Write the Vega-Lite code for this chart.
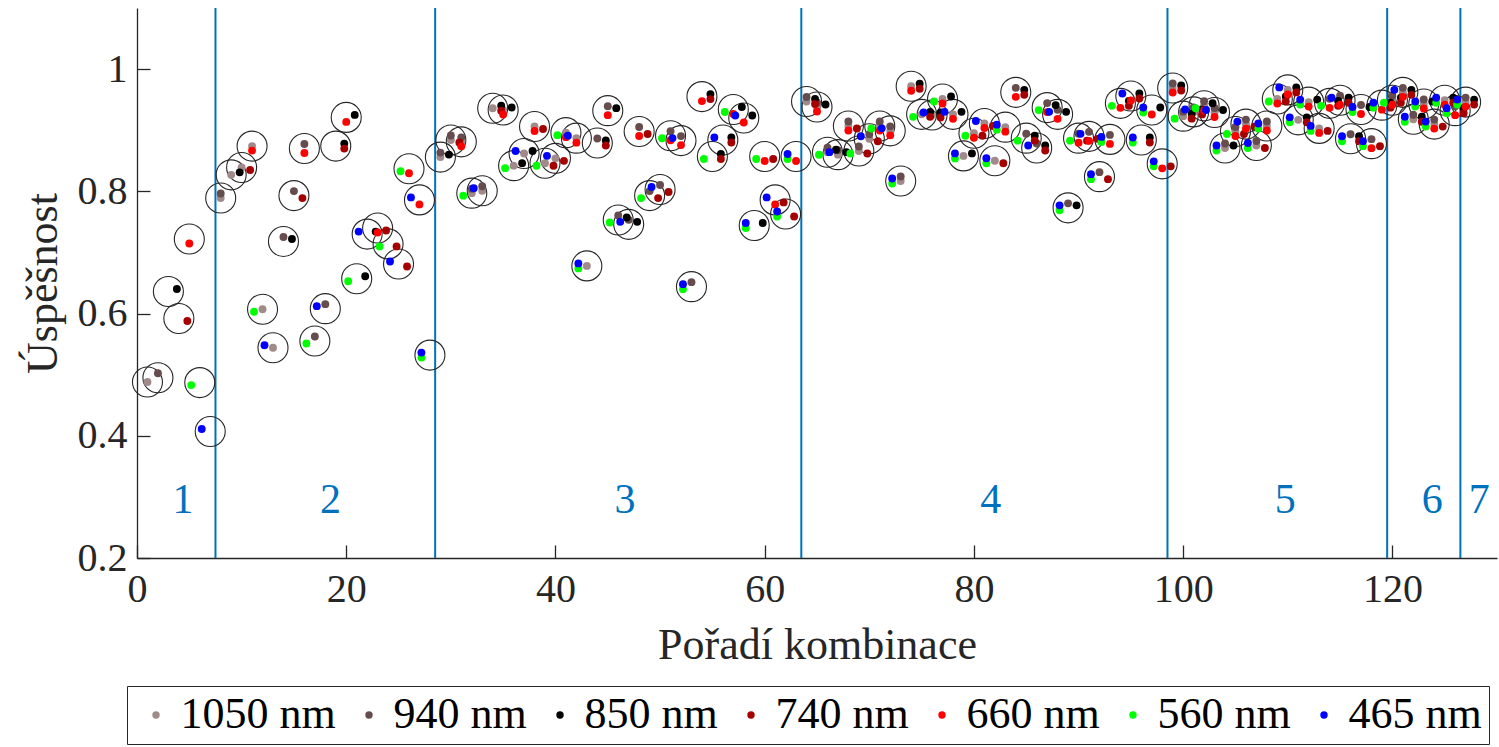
{
  "$schema": "https://vega.github.io/schema/vega-lite/v6.json",
  "width": 1360,
  "height": 550,
  "autosize": {"type": "none"},
  "padding": {"left": 137, "top": 8, "right": 2, "bottom": 189},
  "background": "white",
  "config": {
    "view": {"stroke": null},
    "font": "Liberation Serif",
    "axis": {
      "labelFont": "Liberation Serif",
      "titleFont": "Liberation Serif",
      "labelFontSize": 40,
      "titleFontSize": 44,
      "titleFontWeight": "normal",
      "labelColor": "#262626",
      "titleColor": "#262626",
      "domainColor": "#262626",
      "tickColor": "#262626",
      "domainWidth": 1.3,
      "tickWidth": 1.3,
      "grid": false,
      "tickSize": -13,
      "labelFlush": false,
      "labelOverlap": false
    },
    "legend": {
      "orient": "none", "legendX": -10, "legendY": 678, "direction": "horizontal", "columns": 7,
      "strokeColor": "#262626", "fillColor": "white", "padding": 7,
      "symbolType": "circle", "symbolSize": 55, "symbolStrokeWidth": 0,
      "labelFont": "Liberation Serif", "labelFontSize": 44, "labelColor": "#000000",
      "labelOffset": 2.5, "columnPadding": 11
    }
  },
  "datasets": {
    "bounds": [{"b": 7.5}, {"b": 28.5}, {"b": 63.5}, {"b": 98.5}, {"b": 119.5}, {"b": 126.5}],
    "groups": [
      {"t": "1", "gx": 4.4, "gy": 0.295},
      {"t": "2", "gx": 18.5, "gy": 0.295},
      {"t": "3", "gx": 46.65, "gy": 0.295},
      {"t": "4", "gx": 81.6, "gy": 0.295},
      {"t": "5", "gx": 109.75, "gy": 0.295},
      {"t": "6", "gx": 123.8, "gy": 0.295},
      {"t": "7", "gx": 128.3, "gy": 0.295}
    ],
    "combos": [
      {"k": 1, "acc": 0.488, "w": [1050]},
      {"k": 2, "acc": 0.495, "w": [940]},
      {"k": 3, "acc": 0.636, "w": [850]},
      {"k": 4, "acc": 0.592, "w": [740]},
      {"k": 5, "acc": 0.722, "w": [660]},
      {"k": 6, "acc": 0.487, "w": [560]},
      {"k": 7, "acc": 0.407, "w": [465]},
      {"k": 8, "acc": 0.789, "w": [1050, 940]},
      {"k": 9, "acc": 0.827, "w": [1050, 850]},
      {"k": 10, "acc": 0.839, "w": [1050, 740]},
      {"k": 11, "acc": 0.874, "w": [1050, 660]},
      {"k": 12, "acc": 0.607, "w": [1050, 560]},
      {"k": 13, "acc": 0.544, "w": [1050, 465]},
      {"k": 14, "acc": 0.718, "w": [940, 850]},
      {"k": 15, "acc": 0.793, "w": [940, 740]},
      {"k": 16, "acc": 0.870, "w": [940, 660]},
      {"k": 17, "acc": 0.555, "w": [940, 560]},
      {"k": 18, "acc": 0.608, "w": [940, 465]},
      {"k": 19, "acc": 0.874, "w": [850, 740]},
      {"k": 20, "acc": 0.921, "w": [850, 660]},
      {"k": 21, "acc": 0.657, "w": [850, 560]},
      {"k": 22, "acc": 0.730, "w": [850, 465]},
      {"k": 23, "acc": 0.740, "w": [740, 660]},
      {"k": 24, "acc": 0.714, "w": [740, 560]},
      {"k": 25, "acc": 0.681, "w": [740, 465]},
      {"k": 26, "acc": 0.837, "w": [660, 560]},
      {"k": 27, "acc": 0.786, "w": [660, 465]},
      {"k": 28, "acc": 0.532, "w": [560, 465]},
      {"k": 29, "acc": 0.856, "w": [1050, 940, 850]},
      {"k": 30, "acc": 0.884, "w": [1050, 940, 740]},
      {"k": 31, "acc": 0.881, "w": [1050, 940, 660]},
      {"k": 32, "acc": 0.797, "w": [1050, 940, 560]},
      {"k": 33, "acc": 0.801, "w": [1050, 940, 465]},
      {"k": 34, "acc": 0.936, "w": [1050, 850, 740]},
      {"k": 35, "acc": 0.933, "w": [1050, 850, 660]},
      {"k": 36, "acc": 0.842, "w": [1050, 850, 560]},
      {"k": 37, "acc": 0.862, "w": [1050, 850, 465]},
      {"k": 38, "acc": 0.906, "w": [1050, 740, 660]},
      {"k": 39, "acc": 0.846, "w": [1050, 740, 560]},
      {"k": 40, "acc": 0.854, "w": [1050, 740, 465]},
      {"k": 41, "acc": 0.896, "w": [1050, 660, 560]},
      {"k": 42, "acc": 0.887, "w": [1050, 660, 465]},
      {"k": 43, "acc": 0.678, "w": [1050, 560, 465]},
      {"k": 44, "acc": 0.879, "w": [940, 850, 740]},
      {"k": 45, "acc": 0.932, "w": [940, 850, 660]},
      {"k": 46, "acc": 0.753, "w": [940, 850, 560]},
      {"k": 47, "acc": 0.746, "w": [940, 850, 465]},
      {"k": 48, "acc": 0.898, "w": [940, 740, 660]},
      {"k": 49, "acc": 0.793, "w": [940, 740, 560]},
      {"k": 50, "acc": 0.803, "w": [940, 740, 465]},
      {"k": 51, "acc": 0.891, "w": [940, 660, 560]},
      {"k": 52, "acc": 0.883, "w": [940, 660, 465]},
      {"k": 53, "acc": 0.644, "w": [940, 560, 465]},
      {"k": 54, "acc": 0.955, "w": [850, 740, 660]},
      {"k": 55, "acc": 0.857, "w": [850, 740, 560]},
      {"k": 56, "acc": 0.884, "w": [850, 740, 465]},
      {"k": 57, "acc": 0.934, "w": [850, 660, 560]},
      {"k": 58, "acc": 0.920, "w": [850, 660, 465]},
      {"k": 59, "acc": 0.744, "w": [850, 560, 465]},
      {"k": 60, "acc": 0.857, "w": [740, 660, 560]},
      {"k": 61, "acc": 0.786, "w": [740, 660, 465]},
      {"k": 62, "acc": 0.763, "w": [740, 560, 465]},
      {"k": 63, "acc": 0.857, "w": [660, 560, 465]},
      {"k": 64, "acc": 0.947, "w": [1050, 940, 850, 740]},
      {"k": 65, "acc": 0.938, "w": [1050, 940, 850, 660]},
      {"k": 66, "acc": 0.864, "w": [1050, 940, 850, 560]},
      {"k": 67, "acc": 0.860, "w": [1050, 940, 850, 465]},
      {"k": 68, "acc": 0.907, "w": [1050, 940, 740, 660]},
      {"k": 69, "acc": 0.866, "w": [1050, 940, 740, 560]},
      {"k": 70, "acc": 0.886, "w": [1050, 940, 740, 465]},
      {"k": 71, "acc": 0.907, "w": [1050, 940, 660, 560]},
      {"k": 72, "acc": 0.899, "w": [1050, 940, 660, 465]},
      {"k": 73, "acc": 0.817, "w": [1050, 940, 560, 465]},
      {"k": 74, "acc": 0.972, "w": [1050, 850, 740, 660]},
      {"k": 75, "acc": 0.926, "w": [1050, 850, 740, 560]},
      {"k": 76, "acc": 0.925, "w": [1050, 850, 740, 465]},
      {"k": 77, "acc": 0.951, "w": [1050, 850, 660, 560]},
      {"k": 78, "acc": 0.926, "w": [1050, 850, 660, 465]},
      {"k": 79, "acc": 0.858, "w": [1050, 850, 560, 465]},
      {"k": 80, "acc": 0.895, "w": [1050, 740, 660, 560]},
      {"k": 81, "acc": 0.911, "w": [1050, 740, 660, 465]},
      {"k": 82, "acc": 0.850, "w": [1050, 740, 560, 465]},
      {"k": 83, "acc": 0.905, "w": [1050, 660, 560, 465]},
      {"k": 84, "acc": 0.962, "w": [940, 850, 740, 660]},
      {"k": 85, "acc": 0.887, "w": [940, 850, 740, 560]},
      {"k": 86, "acc": 0.871, "w": [940, 850, 740, 465]},
      {"k": 87, "acc": 0.937, "w": [940, 850, 660, 560]},
      {"k": 88, "acc": 0.926, "w": [940, 850, 660, 465]},
      {"k": 89, "acc": 0.773, "w": [940, 850, 560, 465]},
      {"k": 90, "acc": 0.887, "w": [940, 740, 660, 560]},
      {"k": 91, "acc": 0.890, "w": [940, 740, 660, 465]},
      {"k": 92, "acc": 0.824, "w": [940, 740, 560, 465]},
      {"k": 93, "acc": 0.885, "w": [940, 660, 560, 465]},
      {"k": 94, "acc": 0.944, "w": [850, 740, 660, 560]},
      {"k": 95, "acc": 0.956, "w": [850, 740, 660, 465]},
      {"k": 96, "acc": 0.884, "w": [850, 740, 560, 465]},
      {"k": 97, "acc": 0.933, "w": [850, 660, 560, 465]},
      {"k": 98, "acc": 0.845, "w": [740, 660, 560, 465]},
      {"k": 99, "acc": 0.969, "w": [1050, 940, 850, 740, 660]},
      {"k": 100, "acc": 0.923, "w": [1050, 940, 850, 740, 560]},
      {"k": 101, "acc": 0.930, "w": [1050, 940, 850, 740, 465]},
      {"k": 102, "acc": 0.940, "w": [1050, 940, 850, 660, 560]},
      {"k": 103, "acc": 0.929, "w": [1050, 940, 850, 660, 465]},
      {"k": 104, "acc": 0.871, "w": [1050, 940, 850, 560, 465]},
      {"k": 105, "acc": 0.898, "w": [1050, 940, 740, 660, 560]},
      {"k": 106, "acc": 0.910, "w": [1050, 940, 740, 660, 465]},
      {"k": 107, "acc": 0.875, "w": [1050, 940, 740, 560, 465]},
      {"k": 108, "acc": 0.907, "w": [1050, 940, 660, 560, 465]},
      {"k": 109, "acc": 0.951, "w": [1050, 850, 740, 660, 560]},
      {"k": 110, "acc": 0.966, "w": [1050, 850, 740, 660, 465]},
      {"k": 111, "acc": 0.917, "w": [1050, 850, 740, 560, 465]},
      {"k": 112, "acc": 0.946, "w": [1050, 850, 660, 560, 465]},
      {"k": 113, "acc": 0.903, "w": [1050, 740, 660, 560, 465]},
      {"k": 114, "acc": 0.944, "w": [940, 850, 740, 660, 560]},
      {"k": 115, "acc": 0.949, "w": [940, 850, 740, 660, 465]},
      {"k": 116, "acc": 0.886, "w": [940, 850, 740, 560, 465]},
      {"k": 117, "acc": 0.934, "w": [940, 850, 660, 560, 465]},
      {"k": 118, "acc": 0.878, "w": [940, 740, 660, 560, 465]},
      {"k": 119, "acc": 0.941, "w": [850, 740, 660, 560, 465]},
      {"k": 120, "acc": 0.949, "w": [1050, 940, 850, 740, 660, 560]},
      {"k": 121, "acc": 0.962, "w": [1050, 940, 850, 740, 660, 465]},
      {"k": 122, "acc": 0.918, "w": [1050, 940, 850, 740, 560, 465]},
      {"k": 123, "acc": 0.943, "w": [1050, 940, 850, 660, 560, 465]},
      {"k": 124, "acc": 0.910, "w": [1050, 940, 740, 660, 560, 465]},
      {"k": 125, "acc": 0.949, "w": [1050, 850, 740, 660, 560, 465]},
      {"k": 126, "acc": 0.932, "w": [940, 850, 740, 660, 560, 465]},
      {"k": 127, "acc": 0.946, "w": [1050, 940, 850, 740, 660, 560, 465]}
    ]
  },
  "layer": [
    {
      "data": {"name": "bounds"},
      "mark": {"type": "rule", "color": "#0072BD", "strokeWidth": 2},
      "encoding": {
        "x": {"field": "b", "type": "quantitative", "scale": {"domain": [0, 130], "nice": false, "zero": false}, "title": "Pořadí kombinace", "axis": {"values": [0, 20, 40, 60, 80, 100, 120], "format": "d", "labelPadding": 24, "titlePadding": 14}}
      }
    },
    {
      "data": {"name": "combos"},
      "mark": {"type": "point", "shape": "circle", "filled": false, "size": 900, "stroke": "#262626", "strokeWidth": 1.1, "opacity": 1},
      "encoding": {
        "x": {"field": "k", "type": "quantitative", "scale": {"domain": [0, 130], "nice": false, "zero": false}, "title": "Pořadí kombinace", "axis": {"values": [0, 20, 40, 60, 80, 100, 120], "format": "d", "labelPadding": 24, "titlePadding": 14}},
        "y": {"field": "acc", "type": "quantitative", "scale": {"domain": [0.2, 1.1], "nice": false, "zero": false}, "title": "Úspěšnost", "axis": {"values": [0.2, 0.4, 0.6, 0.8, 1], "format": "~g", "labelPadding": 23, "titlePadding": 12}}
      }
    },
    {
      "data": {"name": "combos"},
      "transform": [{"flatten": ["w"]}, {"filter": {"field": "w", "equal": 1050}}],
      "mark": {"type": "point", "shape": "circle", "filled": true, "size": 62, "opacity": 1, "strokeWidth": 0, "xOffset": 0, "yOffset": 0},
      "encoding": {
        "x": {"field": "k", "type": "quantitative", "scale": {"domain": [0, 130], "nice": false, "zero": false}, "title": "Pořadí kombinace", "axis": {"values": [0, 20, 40, 60, 80, 100, 120], "format": "d", "labelPadding": 24, "titlePadding": 14}},
        "y": {"field": "acc", "type": "quantitative", "scale": {"domain": [0.2, 1.1], "nice": false, "zero": false}, "title": "Úspěšnost", "axis": {"values": [0.2, 0.4, 0.6, 0.8, 1], "format": "~g", "labelPadding": 23, "titlePadding": 12}},
        "color": {"field": "w", "type": "nominal", "title": null, "scale": {"domain": [1050, 940, 850, 740, 660, 560, 465], "range": ["#A08A8A", "#664C4C", "#000000", "#A50000", "#FF0000", "#00FF00", "#0000FF"]}, "legend": {"labelExpr": "datum.label + ' nm'"}}
      }
    },
    {
      "data": {"name": "combos"},
      "transform": [{"flatten": ["w"]}, {"filter": {"field": "w", "equal": 940}}],
      "mark": {"type": "point", "shape": "circle", "filled": true, "size": 62, "opacity": 1, "strokeWidth": 0, "xOffset": 0, "yOffset": -4.5},
      "encoding": {
        "x": {"field": "k", "type": "quantitative", "scale": {"domain": [0, 130], "nice": false, "zero": false}, "title": "Pořadí kombinace", "axis": {"values": [0, 20, 40, 60, 80, 100, 120], "format": "d", "labelPadding": 24, "titlePadding": 14}},
        "y": {"field": "acc", "type": "quantitative", "scale": {"domain": [0.2, 1.1], "nice": false, "zero": false}, "title": "Úspěšnost", "axis": {"values": [0.2, 0.4, 0.6, 0.8, 1], "format": "~g", "labelPadding": 23, "titlePadding": 12}},
        "color": {"field": "w", "type": "nominal", "title": null, "scale": {"domain": [1050, 940, 850, 740, 660, 560, 465], "range": ["#A08A8A", "#664C4C", "#000000", "#A50000", "#FF0000", "#00FF00", "#0000FF"]}, "legend": {"labelExpr": "datum.label + ' nm'"}}
      }
    },
    {
      "data": {"name": "combos"},
      "transform": [{"flatten": ["w"]}, {"filter": {"field": "w", "equal": 850}}],
      "mark": {"type": "point", "shape": "circle", "filled": true, "size": 62, "opacity": 1, "strokeWidth": 0, "xOffset": 8.5, "yOffset": -2.5},
      "encoding": {
        "x": {"field": "k", "type": "quantitative", "scale": {"domain": [0, 130], "nice": false, "zero": false}, "title": "Pořadí kombinace", "axis": {"values": [0, 20, 40, 60, 80, 100, 120], "format": "d", "labelPadding": 24, "titlePadding": 14}},
        "y": {"field": "acc", "type": "quantitative", "scale": {"domain": [0.2, 1.1], "nice": false, "zero": false}, "title": "Úspěšnost", "axis": {"values": [0.2, 0.4, 0.6, 0.8, 1], "format": "~g", "labelPadding": 23, "titlePadding": 12}},
        "color": {"field": "w", "type": "nominal", "title": null, "scale": {"domain": [1050, 940, 850, 740, 660, 560, 465], "range": ["#A08A8A", "#664C4C", "#000000", "#A50000", "#FF0000", "#00FF00", "#0000FF"]}, "legend": {"labelExpr": "datum.label + ' nm'"}}
      }
    },
    {
      "data": {"name": "combos"},
      "transform": [{"flatten": ["w"]}, {"filter": {"field": "w", "equal": 740}}],
      "mark": {"type": "point", "shape": "circle", "filled": true, "size": 62, "opacity": 1, "strokeWidth": 0, "xOffset": 8.5, "yOffset": 2.5},
      "encoding": {
        "x": {"field": "k", "type": "quantitative", "scale": {"domain": [0, 130], "nice": false, "zero": false}, "title": "Pořadí kombinace", "axis": {"values": [0, 20, 40, 60, 80, 100, 120], "format": "d", "labelPadding": 24, "titlePadding": 14}},
        "y": {"field": "acc", "type": "quantitative", "scale": {"domain": [0.2, 1.1], "nice": false, "zero": false}, "title": "Úspěšnost", "axis": {"values": [0.2, 0.4, 0.6, 0.8, 1], "format": "~g", "labelPadding": 23, "titlePadding": 12}},
        "color": {"field": "w", "type": "nominal", "title": null, "scale": {"domain": [1050, 940, 850, 740, 660, 560, 465], "range": ["#A08A8A", "#664C4C", "#000000", "#A50000", "#FF0000", "#00FF00", "#0000FF"]}, "legend": {"labelExpr": "datum.label + ' nm'"}}
      }
    },
    {
      "data": {"name": "combos"},
      "transform": [{"flatten": ["w"]}, {"filter": {"field": "w", "equal": 660}}],
      "mark": {"type": "point", "shape": "circle", "filled": true, "size": 62, "opacity": 1, "strokeWidth": 0, "xOffset": 0, "yOffset": 4.5},
      "encoding": {
        "x": {"field": "k", "type": "quantitative", "scale": {"domain": [0, 130], "nice": false, "zero": false}, "title": "Pořadí kombinace", "axis": {"values": [0, 20, 40, 60, 80, 100, 120], "format": "d", "labelPadding": 24, "titlePadding": 14}},
        "y": {"field": "acc", "type": "quantitative", "scale": {"domain": [0.2, 1.1], "nice": false, "zero": false}, "title": "Úspěšnost", "axis": {"values": [0.2, 0.4, 0.6, 0.8, 1], "format": "~g", "labelPadding": 23, "titlePadding": 12}},
        "color": {"field": "w", "type": "nominal", "title": null, "scale": {"domain": [1050, 940, 850, 740, 660, 560, 465], "range": ["#A08A8A", "#664C4C", "#000000", "#A50000", "#FF0000", "#00FF00", "#0000FF"]}, "legend": {"labelExpr": "datum.label + ' nm'"}}
      }
    },
    {
      "data": {"name": "combos"},
      "transform": [{"flatten": ["w"]}, {"filter": {"field": "w", "equal": 560}}],
      "mark": {"type": "point", "shape": "circle", "filled": true, "size": 62, "opacity": 1, "strokeWidth": 0, "xOffset": -8.5, "yOffset": 2.5},
      "encoding": {
        "x": {"field": "k", "type": "quantitative", "scale": {"domain": [0, 130], "nice": false, "zero": false}, "title": "Pořadí kombinace", "axis": {"values": [0, 20, 40, 60, 80, 100, 120], "format": "d", "labelPadding": 24, "titlePadding": 14}},
        "y": {"field": "acc", "type": "quantitative", "scale": {"domain": [0.2, 1.1], "nice": false, "zero": false}, "title": "Úspěšnost", "axis": {"values": [0.2, 0.4, 0.6, 0.8, 1], "format": "~g", "labelPadding": 23, "titlePadding": 12}},
        "color": {"field": "w", "type": "nominal", "title": null, "scale": {"domain": [1050, 940, 850, 740, 660, 560, 465], "range": ["#A08A8A", "#664C4C", "#000000", "#A50000", "#FF0000", "#00FF00", "#0000FF"]}, "legend": {"labelExpr": "datum.label + ' nm'"}}
      }
    },
    {
      "data": {"name": "combos"},
      "transform": [{"flatten": ["w"]}, {"filter": {"field": "w", "equal": 465}}],
      "mark": {"type": "point", "shape": "circle", "filled": true, "size": 62, "opacity": 1, "strokeWidth": 0, "xOffset": -8.5, "yOffset": -2.5},
      "encoding": {
        "x": {"field": "k", "type": "quantitative", "scale": {"domain": [0, 130], "nice": false, "zero": false}, "title": "Pořadí kombinace", "axis": {"values": [0, 20, 40, 60, 80, 100, 120], "format": "d", "labelPadding": 24, "titlePadding": 14}},
        "y": {"field": "acc", "type": "quantitative", "scale": {"domain": [0.2, 1.1], "nice": false, "zero": false}, "title": "Úspěšnost", "axis": {"values": [0.2, 0.4, 0.6, 0.8, 1], "format": "~g", "labelPadding": 23, "titlePadding": 12}},
        "color": {"field": "w", "type": "nominal", "title": null, "scale": {"domain": [1050, 940, 850, 740, 660, 560, 465], "range": ["#A08A8A", "#664C4C", "#000000", "#A50000", "#FF0000", "#00FF00", "#0000FF"]}, "legend": {"labelExpr": "datum.label + ' nm'"}}
      }
    },
    {
      "data": {"name": "groups"},
      "mark": {"type": "text", "color": "#0072BD", "fontSize": 42, "font": "Liberation Serif", "align": "center", "baseline": "middle"},
      "encoding": {
        "x": {"field": "gx", "type": "quantitative", "scale": {"domain": [0, 130], "nice": false, "zero": false}, "title": "Pořadí kombinace", "axis": {"values": [0, 20, 40, 60, 80, 100, 120], "format": "d", "labelPadding": 24, "titlePadding": 14}},
        "y": {"field": "gy", "type": "quantitative", "scale": {"domain": [0.2, 1.1], "nice": false, "zero": false}, "title": "Úspěšnost", "axis": {"values": [0.2, 0.4, 0.6, 0.8, 1], "format": "~g", "labelPadding": 23, "titlePadding": 12}},
        "text": {"field": "t", "type": "nominal"}
      }
    }
  ]
}
